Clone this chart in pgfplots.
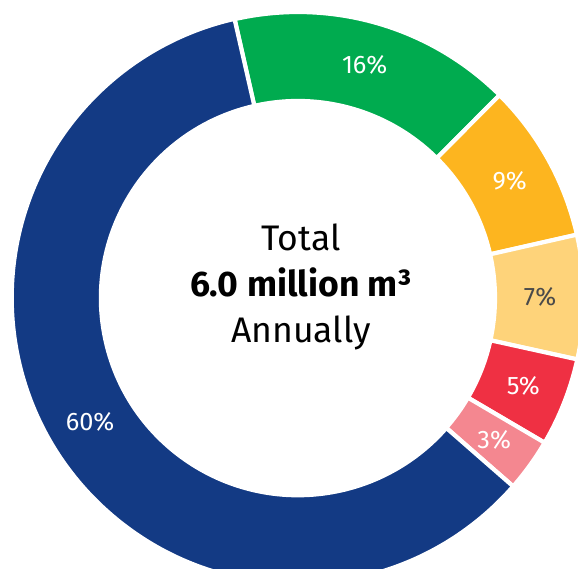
\documentclass[border=0pt]{standalone}
\usepackage{fontspec}
\setmainfont{Fira Sans}
\usepackage{pgfplots}
\usepackage{pgfplotstable}
\pgfplotsset{compat=1.18}

\definecolor{cblue}{HTML}{133A84}
\definecolor{cgreen}{HTML}{00AB4F}
\definecolor{corange}{HTML}{FDB51F}
\definecolor{cyellow}{HTML}{FED37A}
\definecolor{cred}{HTML}{EF3043}
\definecolor{cpink}{HTML}{F48790}
\definecolor{labgray}{HTML}{4A4A4A}

% share of annual total, clockwise from the top
\pgfplotstableread{
pct col lab
16 cgreen white
9 corange white
7 cyellow labgray
5 cred white
3 cpink white
60 cblue white
}\donutdata

\begin{document}
\begin{tikzpicture}
\begin{axis}[
    x=0.01cm, y=0.01cm,
    xmin=-298, xmax=280,
    ymin=-271, ymax=298,
    hide axis,
    clip=true,
]
\coordinate (bl) at (rel axis cs:0,0);
\coordinate (tr) at (rel axis cs:1,1);
\pgfplotstablegetrowsof{\donutdata}
\pgfmathtruncatemacro\nrows{\pgfplotsretval-1}
\def\angcur{102.8}
\pgfplotsforeachungrouped \i in {0,...,\nrows}{
    \pgfplotstablegetelem{\i}{pct}\of\donutdata \let\p\pgfplotsretval
    \pgfplotstablegetelem{\i}{col}\of\donutdata \let\c\pgfplotsretval
    \pgfplotstablegetelem{\i}{lab}\of\donutdata \let\lc\pgfplotsretval
    \pgfmathsetmacro\angend{\angcur-3.6*\p}
    \pgfmathsetmacro\angmid{(\angcur+\angend)/2}
    \pgfmathsetmacro\xo{286*cos(\angcur)}
    \pgfmathsetmacro\yo{286*sin(\angcur)}
    \pgfmathsetmacro\xi{197*cos(\angend)}
    \pgfmathsetmacro\yi{197*sin(\angend)}
    \pgfmathsetmacro\xl{242*cos(\angmid)}
    \pgfmathsetmacro\yl{242*sin(\angmid)}
    \edef\temp{%
        \noexpand\fill[\c, draw=white, line width=0.042cm]
            (axis cs:\xo,\yo) arc[start angle=\angcur, end angle=\angend, radius=2.86cm]
            -- (axis cs:\xi,\yi) arc[start angle=\angend, end angle=\angcur, radius=1.97cm]
            -- cycle;
        \noexpand\node[text=\lc, font=\noexpand\fontsize{7.2}{9}\noexpand\selectfont]
            at (axis cs:\xl,\yl) {\p\noexpand\%};
    }\temp
    \let\angcur\angend
}
\node[align=center, font=\fontsize{10.1}{13.2}\selectfont]
    at (axis cs:3,11) {Total\\\textbf{6.0 million m³}\\Annually};
\end{axis}
\pgfresetboundingbox
\useasboundingbox (bl) rectangle (tr);
\end{tikzpicture}
\end{document}
